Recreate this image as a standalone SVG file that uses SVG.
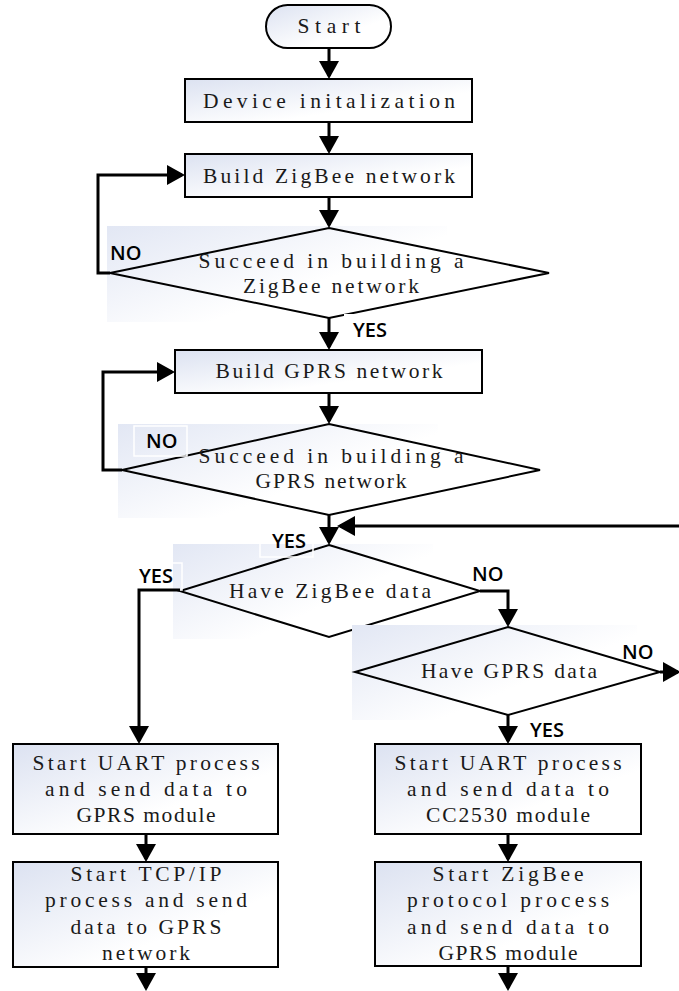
<svg xmlns="http://www.w3.org/2000/svg" width="679" height="991" viewBox="0 0 679 991">
  <defs>
    <linearGradient id="boxFill" x1="0" y1="0" x2="1" y2="1">
      <stop offset="0" stop-color="#dce2f1"/>
      <stop offset="0.65" stop-color="#ffffff"/>
    </linearGradient>
    <linearGradient id="panelFill" x1="0" y1="0" x2="0.9" y2="0.7">
      <stop offset="0" stop-color="#e2e7f4"/>
      <stop offset="0.75" stop-color="#ffffff"/>
    </linearGradient>
    <marker id="arrow" markerUnits="userSpaceOnUse" markerWidth="18" markerHeight="20" refX="15" refY="10" orient="auto">
      <path d="M0,0 L18,10 L0,20 Z" fill="#000"/>
    </marker>
    <style>
      .box { fill: url(#boxFill); stroke: #000; stroke-width: 2; }
      .panel { fill: url(#panelFill); stroke: none; }
      .dia { fill: none; stroke: #000; stroke-width: 2; stroke-linejoin: miter; }
      .txt { font-family: "Liberation Serif", "DejaVu Serif", serif; font-size: 21.5px; fill: #1a1a1a; text-anchor: middle; }
      .lbl { font-family: "Open Sans", "Noto Sans", sans-serif; font-size: 20px; font-weight: 600; fill: #000; }
      .tag { fill: none; stroke: #fff; stroke-width: 1.5; }
      .wire { fill: none; stroke: #000; stroke-width: 3; marker-end: url(#arrow); }
    </style>
  </defs>

  <rect width="679" height="991" fill="#fff"/>

  <!-- Start terminal -->
  <g id="start">
    <rect class="box" x="266" y="5" width="125" height="43" rx="21.5" ry="21.5"/>
    <text class="txt" x="329" y="33" textLength="63" lengthAdjust="spacing">Start</text>
  </g>

  <g id="device-init">
    <rect class="box" x="185" y="79" width="287" height="43"/>
    <text class="txt" x="329" y="108" textLength="252" lengthAdjust="spacing">Device initalization</text>
  </g>

  <g id="build-zigbee">
    <rect class="box" x="185" y="154" width="287" height="43"/>
    <text class="txt" x="329" y="183" textLength="252" lengthAdjust="spacing">Build ZigBee network</text>
  </g>

  <g id="check-zigbee">
    <rect class="panel" x="107" y="226" width="340" height="96"/>
    <polygon class="dia" points="329,228 549,273 329,318 110,273"/>
    <text class="txt" x="331" y="268" textLength="265" lengthAdjust="spacing">Succeed in building a</text>
    <text class="txt" x="331" y="293" textLength="176" lengthAdjust="spacing">ZigBee network</text>
  </g>

  <g id="build-gprs">
    <rect class="box" x="175" y="350" width="307" height="43"/>
    <text class="txt" x="329" y="378" textLength="227" lengthAdjust="spacing">Build GPRS network</text>
  </g>

  <g id="check-gprs">
    <rect class="panel" x="118" y="424" width="320" height="94"/>
    <polygon class="dia" points="329,424 540,470 329,515 122,470"/>
    <text class="txt" x="331" y="463" textLength="265" lengthAdjust="spacing">Succeed in building a</text>
    <text class="txt" x="331" y="488" textLength="151" lengthAdjust="spacing">GPRS network</text>
  </g>

  <g id="have-zigbee-data">
    <rect class="panel" x="173" y="544" width="260" height="95"/>
    <polygon class="dia" points="329,545 480,591 329,637 180,591"/>
    <text class="txt" x="330" y="598" textLength="202" lengthAdjust="spacing">Have ZigBee data</text>
  </g>

  <g id="have-gprs-data">
    <rect class="panel" x="352" y="625" width="285" height="95"/>
    <polygon class="dia" points="508,627 660,672 508,715 355,672"/>
    <text class="txt" x="509" y="678" textLength="176" lengthAdjust="spacing">Have GPRS data</text>
  </g>

  <g id="uart-to-gprs">
    <rect class="box" x="13" y="744" width="265" height="90"/>
    <text class="txt" x="146" y="770" textLength="227" lengthAdjust="spacing">Start UART process</text>
    <text class="txt" x="146" y="796" textLength="202" lengthAdjust="spacing">and send data to</text>
    <text class="txt" x="146" y="822" textLength="139" lengthAdjust="spacing">GPRS module</text>
  </g>

  <g id="tcpip-to-network">
    <rect class="box" x="13" y="862" width="265" height="105"/>
    <text class="txt" x="146" y="881" textLength="151" lengthAdjust="spacing">Start TCP/IP</text>
    <text class="txt" x="146" y="907" textLength="202" lengthAdjust="spacing">process and send</text>
    <text class="txt" x="146" y="934" textLength="151" lengthAdjust="spacing">data to GPRS</text>
    <text class="txt" x="146" y="960" textLength="88" lengthAdjust="spacing">network</text>
  </g>

  <g id="uart-to-cc2530">
    <rect class="box" x="375" y="744" width="266" height="90"/>
    <text class="txt" x="508" y="770" textLength="227" lengthAdjust="spacing">Start UART process</text>
    <text class="txt" x="508" y="796" textLength="202" lengthAdjust="spacing">and send data to</text>
    <text class="txt" x="508" y="822" textLength="164" lengthAdjust="spacing">CC2530 module</text>
  </g>

  <g id="zigbee-to-gprs-module">
    <rect class="box" x="375" y="862" width="266" height="104"/>
    <text class="txt" x="508" y="881" textLength="151" lengthAdjust="spacing">Start ZigBee</text>
    <text class="txt" x="508" y="907" textLength="202" lengthAdjust="spacing">protocol process</text>
    <text class="txt" x="508" y="934" textLength="202" lengthAdjust="spacing">and send data to</text>
    <text class="txt" x="508" y="960" textLength="139" lengthAdjust="spacing">GPRS module</text>
  </g>

  <!-- label frames sit under the wires -->
  <g id="label-frames">
    <rect x="344" y="314" width="48" height="27" fill="#fff"/>
    <rect class="tag" x="134" y="426" width="53" height="30"/>
    <rect class="tag" x="260" y="533" width="53" height="24"/>
    <rect class="tag" x="135" y="563" width="47" height="27"/>
  </g>

  <!-- connectors -->
  <g id="connectors">
    <path class="wire" d="M329,48 V76"/>
    <path class="wire" d="M329,122 V151"/>
    <path class="wire" d="M329,197 V225"/>
    <path class="wire" d="M110,273 H98 V175 H182"/>
    <path class="wire" d="M329,318 V347"/>
    <path class="wire" d="M329,393 V421"/>
    <path class="wire" d="M122,470 H103 V372 H172"/>
    <path class="wire" d="M329,515 V542"/>
    <path class="wire" d="M681,526 H340"/>
    <path class="wire" d="M180,590 H139 V741"/>
    <path class="wire" d="M480,591 H508 V624"/>
    <path class="wire" d="M660,672 H678"/>
    <path class="wire" d="M508,715 V741"/>
    <path class="wire" d="M146,834 V859"/>
    <path class="wire" d="M146,967 V988"/>
    <path class="wire" d="M508,834 V859"/>
    <path class="wire" d="M508,966 V988"/>
  </g>

  <!-- branch labels -->
  <g id="labels">
    <text class="lbl" x="110" y="260">NO</text>
    <text class="lbl" x="353" y="337">YES</text>
    <text class="lbl" x="146" y="448">NO</text>
    <text class="lbl" x="272" y="548">YES</text>
    <text class="lbl" x="139" y="583">YES</text>
    <text class="lbl" x="472" y="581">NO</text>
    <text class="lbl" x="622" y="659">NO</text>
    <text class="lbl" x="530" y="737">YES</text>
  </g>
</svg>
